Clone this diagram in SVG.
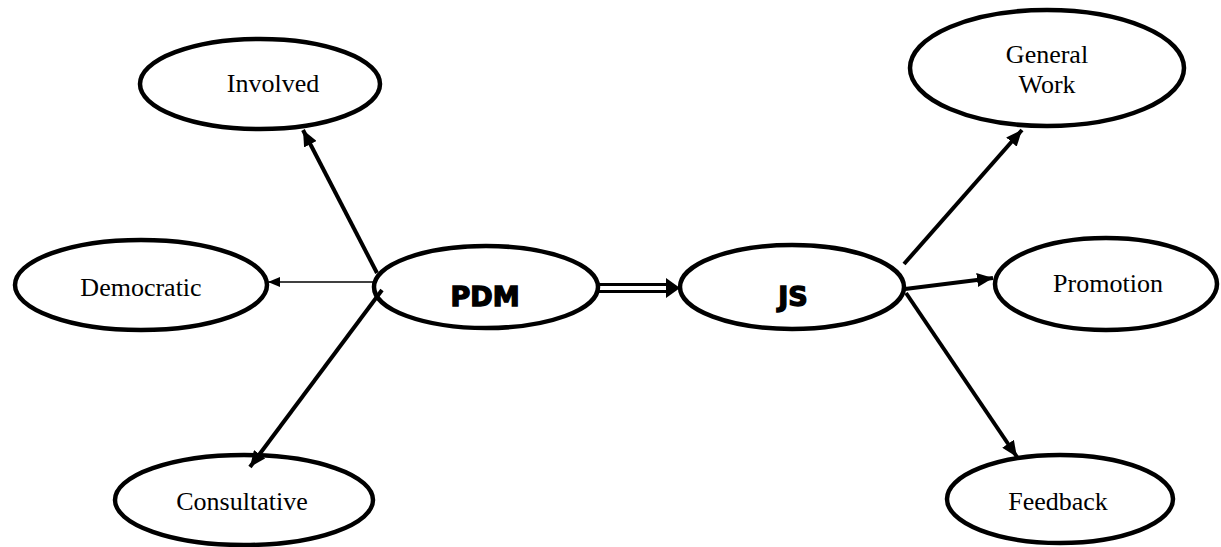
<svg xmlns="http://www.w3.org/2000/svg" width="1221" height="547" viewBox="0 0 1221 547">
<style>
.n{fill:#fff;stroke:#000;stroke-width:4.5}
.t{font-family:"Liberation Serif","Times New Roman",serif;font-size:26px;fill:#000;text-anchor:middle}
.b{font-family:"DejaVu Sans","Liberation Sans",sans-serif;font-weight:bold;font-size:27px;fill:#000;stroke:#000;stroke-width:1.4;text-anchor:middle}
.c{stroke:#000;stroke-width:4;fill:none}
</style>
<defs>
<marker id="ah" markerUnits="userSpaceOnUse" viewBox="0 0 16 14" refX="16" refY="7" markerWidth="16" markerHeight="14" orient="auto">
<path d="M0,0 L16,7 L0,14 Z" fill="#000"/>
</marker>
<marker id="ahs" markerUnits="userSpaceOnUse" viewBox="0 0 12 10" refX="12" refY="5" markerWidth="12" markerHeight="10" orient="auto">
<path d="M0,0 L12,5 L0,10 Z" fill="#000"/>
</marker>
</defs>
<g id="involved"><ellipse class="n" cx="260" cy="84" rx="120" ry="45"/><text class="t" x="273" y="92">Involved</text></g>
<g id="democratic"><ellipse class="n" cx="141" cy="285" rx="126" ry="45"/><text class="t" x="141" y="296">Democratic</text></g>
<g id="consultative"><ellipse class="n" cx="244" cy="500" rx="129" ry="45"/><text class="t" x="242" y="510">Consultative</text></g>
<g id="pdm"><ellipse class="n" cx="486" cy="287" rx="112" ry="41"/><text class="b" x="485" y="306">PDM</text></g>
<g id="js"><ellipse class="n" cx="792" cy="287" rx="112" ry="42"/><text class="b" x="793" y="306">JS</text></g>
<g id="generalwork"><ellipse class="n" cx="1047" cy="68" rx="137" ry="58"/><text class="t" x="1047" y="63">General</text><text class="t" x="1047" y="93">Work</text></g>
<g id="promotion"><ellipse class="n" cx="1106" cy="284" rx="111" ry="46"/><text class="t" x="1108" y="292">Promotion</text></g>
<g id="feedback"><ellipse class="n" cx="1060" cy="499" rx="113" ry="44"/><text class="t" x="1058" y="510">Feedback</text></g>
<g id="connectors">
<line class="c" x1="377" y1="273" x2="303" y2="130" marker-end="url(#ah)"/>
<line x1="374" y1="282" x2="268" y2="282" stroke="#000" stroke-width="1.5" marker-end="url(#ahs)"/>
<line class="c" x1="382" y1="290" x2="250" y2="467" marker-end="url(#ah)"/>
<line x1="599" y1="284.5" x2="668" y2="284.5" stroke="#000" stroke-width="3"/>
<line x1="599" y1="291.5" x2="668" y2="291.5" stroke="#000" stroke-width="3"/>
<path d="M666,278 L680,288 L666,298 Z" fill="#000"/>
<line class="c" x1="904" y1="264" x2="1022" y2="130" marker-end="url(#ah)"/>
<line class="c" x1="905" y1="289" x2="993" y2="278" marker-end="url(#ah)"/>
<line class="c" x1="906" y1="293" x2="1017" y2="457" marker-end="url(#ah)"/>
</g>
</svg>
